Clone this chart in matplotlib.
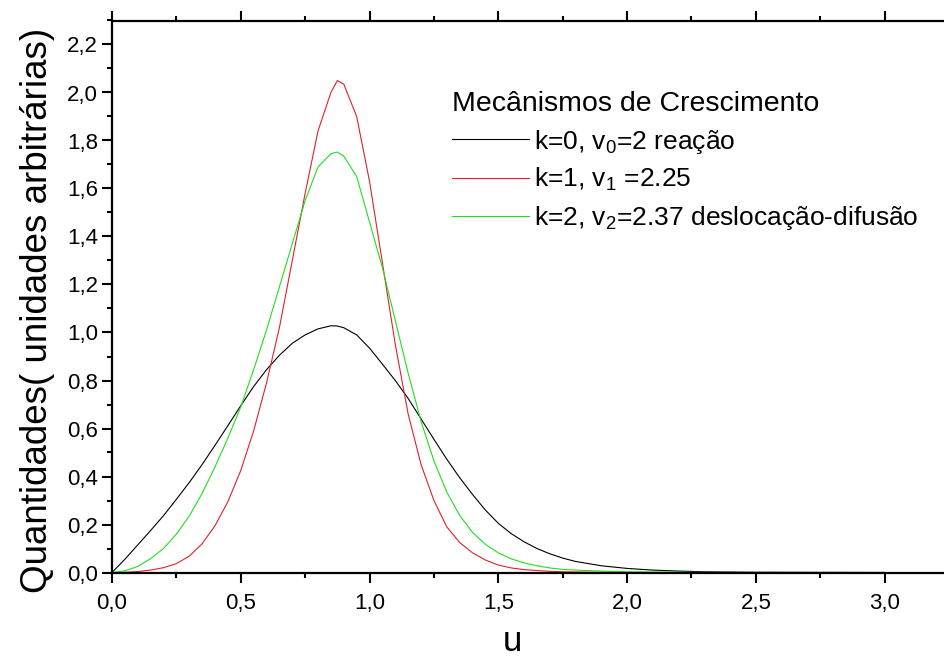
import matplotlib

matplotlib.use("Agg")

import matplotlib.pyplot as plt
from matplotlib.ticker import MultipleLocator, FuncFormatter

plt.rcParams["font.family"] = ["Liberation Sans", "DejaVu Sans"]
plt.rcParams["mathtext.default"] = "regular"

# values
u = [0.0, 0.05, 0.1, 0.15, 0.2, 0.25, 0.3, 0.35, 0.4, 0.45, 0.5, 0.55, 0.6,
     0.65, 0.7, 0.75, 0.8, 0.85, 0.875, 0.9, 0.95, 1.0, 1.05, 1.1, 1.15, 1.2,
     1.25, 1.3, 1.35, 1.4, 1.45, 1.5, 1.55, 1.6, 1.65, 1.7, 1.75, 1.8, 1.9,
     2.0, 2.1, 2.2, 2.3, 2.5, 3.0]

k0 = [0.0, 0.055, 0.115, 0.175, 0.237, 0.305, 0.375, 0.45, 0.53, 0.612,
      0.695, 0.775, 0.845, 0.905, 0.955, 0.99, 1.015, 1.028, 1.027, 1.02,
      0.99, 0.935, 0.868, 0.80, 0.725, 0.64, 0.555, 0.472, 0.395, 0.325,
      0.26, 0.205, 0.162, 0.128, 0.10, 0.078, 0.06, 0.046, 0.028, 0.017,
      0.01, 0.006, 0.003, 0.001, 0.0]

k1 = [0.0, 0.001, 0.004, 0.01, 0.02, 0.037, 0.068, 0.12, 0.195, 0.295, 0.425,
      0.59, 0.79, 1.02, 1.30, 1.58, 1.84, 2.0, 2.05, 2.035, 1.90, 1.63, 1.29,
      0.95, 0.66, 0.45, 0.30, 0.19, 0.125, 0.082, 0.052, 0.031, 0.019, 0.012,
      0.008, 0.005, 0.003, 0.002, 0.001, 0.0, 0.0, 0.0, 0.0, 0.0, 0.0]

k2 = [0.0, 0.007, 0.025, 0.058, 0.10, 0.16, 0.235, 0.33, 0.44, 0.56, 0.69,
      0.845, 1.01, 1.19, 1.37, 1.55, 1.69, 1.745, 1.752, 1.735, 1.65, 1.46,
      1.27, 1.05, 0.83, 0.63, 0.465, 0.335, 0.238, 0.167, 0.117, 0.082,
      0.057, 0.04, 0.028, 0.019, 0.013, 0.01, 0.006, 0.003, 0.002, 0.001,
      0.0005, 0.0, 0.0]

labels = [
    "k=0, v$_{0}$=2 reação",
    "k=1, v$_{1}$ =2.25",
    "k=2, v$_{2}$=2.37 deslocação-difusão",
]
colors = ["#000000", "#e0202c", "#22dd22"]

fig = plt.figure(figsize=(9.44, 6.61), dpi=100)
ax = fig.add_axes([112 / 944, 1 - 572.5 / 661, (949 - 112) / 944, (572.5 - 20.5) / 661])

for ys, lab, c in zip([k0, k1, k2], labels, colors):
    ax.plot(u, ys, color=c, lw=0.8, label=lab)

ax.set_xlim(0, 3.25)
ax.set_ylim(0, 2.3)
ax.xaxis.set_major_locator(MultipleLocator(0.5))
ax.xaxis.set_minor_locator(MultipleLocator(0.25))
ax.yaxis.set_major_locator(MultipleLocator(0.2))
ax.yaxis.set_minor_locator(MultipleLocator(0.1))
comma = FuncFormatter(lambda v, pos: f"{v:.1f}".replace(".", ","))
ax.xaxis.set_major_formatter(comma)
ax.yaxis.set_major_formatter(comma)

for side in ("left", "bottom", "top"):
    ax.spines[side].set_linewidth(1.6)
ax.spines["right"].set_visible(False)
ax.tick_params(which="both", direction="out", top=True, right=False,
               labeltop=False, width=1.5, labelsize=16)
ax.tick_params(which="major", length=7)
ax.tick_params(which="minor", length=3.5)
ax.tick_params(axis="x", which="major", pad=8)
ax.tick_params(axis="y", which="major", pad=3)

ax.set_xlabel("u", fontsize=25)
ax.set_ylabel("Quantidades( unidades arbitrárias)", fontsize=26.5)
ax.xaxis.set_label_coords((512 - 112) / 837, -0.095)
ax.yaxis.set_label_coords(-0.068, 0.474)

leg = ax.legend(title="Mecânismos de Crescimento", loc="upper left",
                bbox_to_anchor=(452 / 944, 1 - 91 / 661),
                bbox_transform=fig.transFigure, frameon=False, fontsize=19,
                title_fontsize=20.5, handlelength=2.9, handletextpad=0.2,
                labelspacing=0.4, borderpad=0, borderaxespad=0,
                alignment="left")

fig.savefig("out.png", dpi=100)
